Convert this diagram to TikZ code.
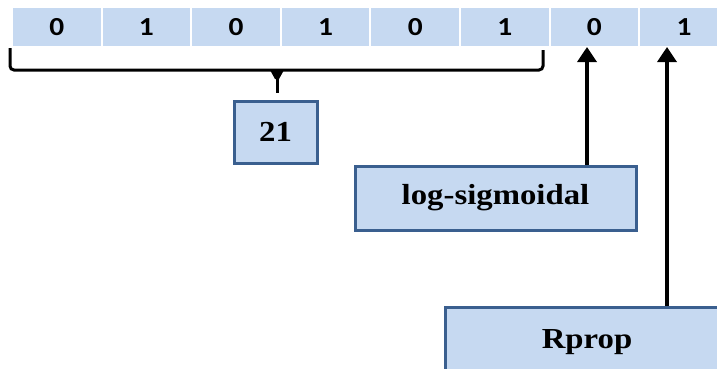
\documentclass[tikz,border=0pt]{standalone}
\usepackage{fontspec}
\setmainfont{Liberation Serif}
\newfontfamily\cellfont{Carlito}
\usetikzlibrary{arrows.meta}
\definecolor{cellblue}{HTML}{C6D9F1}
\definecolor{boxedge}{HTML}{3A5F8F}
\newcommand{\widetext}[1]{\scalebox{1.13}[1]{#1}}
\tikzset{
  bitcell/.style={fill=cellblue, minimum width=87.6pt, minimum height=38pt,
    inner sep=0pt, font=\cellfont\bfseries\fontsize{26}{26}\selectfont},
  labelbox/.style={draw=boxedge, fill=cellblue, line width=3pt, inner sep=0pt,
    font=\bfseries\fontsize{29}{29}\selectfont},
  bracket/.style={line width=3pt, rounded corners=4pt},
  uparrow/.style={line width=3.5pt, -{Triangle[length=15pt,width=19pt]}}
}
\begin{document}
\begin{tikzpicture}[x=1pt,y=-1pt]
  \useasboundingbox (0,0) rectangle (717,368);
  \clip (0,0) rectangle (717,368);

  % the eight bits of the chromosome
  \foreach \b [count=\i] in {0,1,0,1,0,1,0,1} {
    \node[bitcell] (c\i) at ({13+43.8+89.6*(\i-1)},27) {\widetext{\b}};
  }

  % brace gathering the first six bits
  \coordinate (bl) at (10,48);
  \coordinate (br) at (543,50);
  \coordinate (bt) at (277,93);
  \draw[bracket] (bl) -- (10,70) -- (543,70) -- (br);
  \draw[line width=3pt] (277,70) -- (bt);
  \fill (270,70) -- (284,70) -- (279,79) -- (275,79) -- cycle;

  % decoded value and the two learning choices
  \node[labelbox, minimum width=83pt, minimum height=62pt] (val) at (275.5,132) {\widetext{21}};
  \node[labelbox, minimum width=281pt, minimum height=64pt] (lsig) at (495.5,198) {\widetext{log-sigmoidal}};
  \node[labelbox, minimum width=284pt, minimum height=70pt] (rprop) at (587,342) {\widetext{Rprop}};

  % arrows up to the last two bits
  \coordinate (t1) at (587,47);
  \coordinate (t2) at (667,47);
  \draw[uparrow] (lsig.north -| t1) -- (t1);
  \draw[uparrow] (rprop.north -| t2) -- (t2);
\end{tikzpicture}
\end{document}
